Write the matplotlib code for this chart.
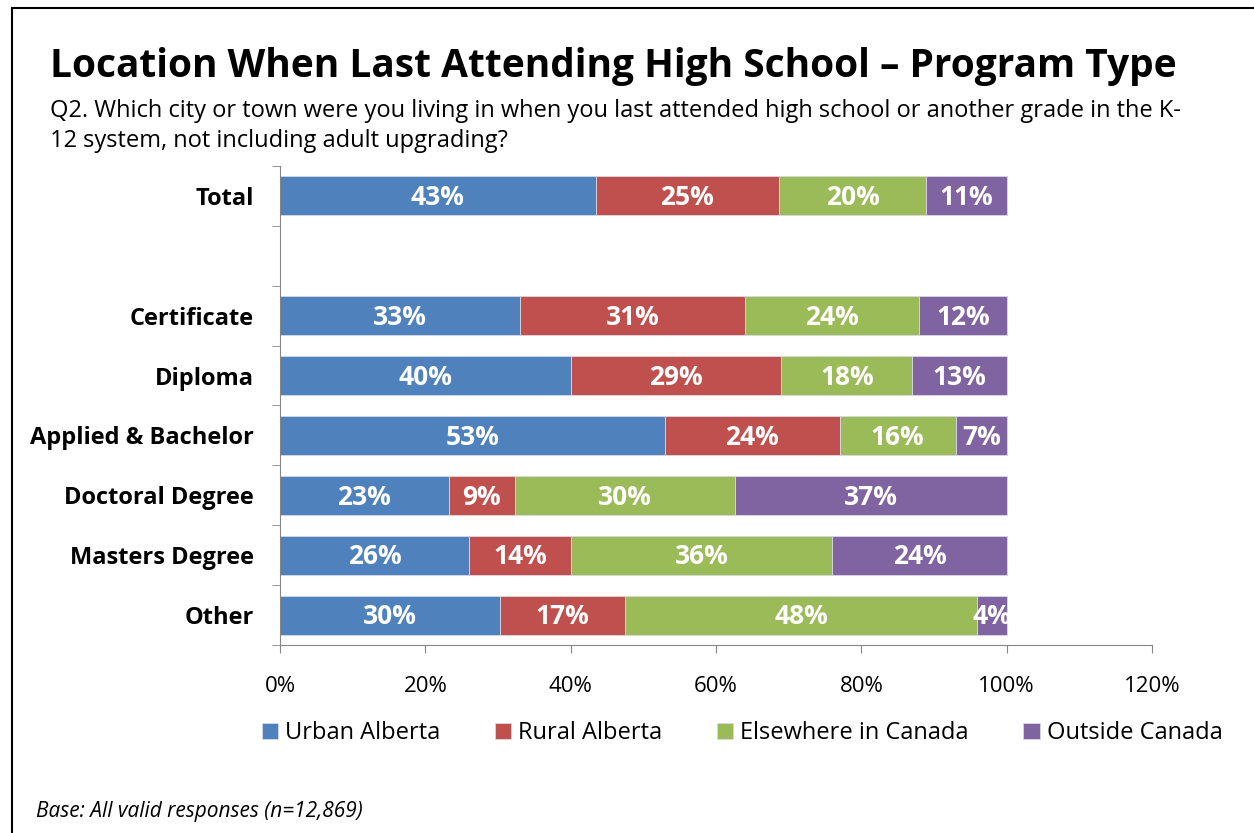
import numpy as np
import matplotlib.pyplot as plt
from matplotlib.lines import Line2D

plt.rcParams['font.family'] = ['Open Sans', 'DejaVu Sans']

# rows from top to bottom, "" is the spacer row after Total
categories = ['Total', '', 'Certificate', 'Diploma', 'Applied & Bachelor',
              'Doctoral Degree', 'Masters Degree', 'Other']
series = ['Urban Alberta', 'Rural Alberta', 'Elsewhere in Canada', 'Outside Canada']
urban = [43, 0, 33, 40, 53, 23, 26, 30]
rural = [25, 0, 31, 29, 24, 9, 14, 17]
elsewhere = [20, 0, 24, 18, 16, 30, 36, 48]
outside = [11, 0, 12, 13, 7, 37, 24, 4]
colors = ['#4F81BD', '#C0504D', '#9BBB59', '#8064A2']
xticks = [0, 20, 40, 60, 80, 100, 120]

data = np.array([urban, rural, elsewhere, outside], dtype=float)
totals = data.sum(axis=0)
totals[totals == 0] = 1
shares = data / totals * 100  # 100% stacked

fig = plt.figure(figsize=(12.54, 8.33), dpi=100)
ax = fig.add_axes([280/1254, 1 - 645/833, (1152-280)/1254, (645-166)/833])

y = np.arange(len(categories))
left = np.zeros(len(categories))
for vals, pct, col, name in zip(data, shares, colors, series):
    ax.barh(y, pct, left=left, height=0.65, color=col, label=name,
            edgecolor='#d9d9e6', linewidth=0.6)
    for yi, v, p, l in zip(y, vals, pct, left):
        if v > 0:
            ax.text(l + p / 2, yi + 0.03, f'{v:.0f}%', ha='center', va='center',
                    color='white', fontsize=19, fontweight='bold')
    left += pct

ax.set_ylim(len(categories) - 0.5, -0.5)
ax.set_xlim(0, 120)
ax.set_xticks(xticks)
ax.set_xticklabels([f'{t}%' for t in xticks], fontsize=16)
ax.set_yticks(y)
ax.set_yticklabels(categories, fontsize=17, fontweight='bold')
ax.set_yticks(np.arange(len(categories) + 1) - 0.5, minor=True)
ax.tick_params(axis='y', which='major', length=0, pad=19)
ax.tick_params(axis='y', which='minor', length=6, color='#868686')
ax.tick_params(axis='x', length=6, color='#868686', pad=16)
for s in ['top', 'right']:
    ax.spines[s].set_visible(False)
for s in ['left', 'bottom']:
    ax.spines[s].set_color('#868686')

ax.legend(loc='upper center', bbox_to_anchor=(0.5 + 26/872, -0.115), ncol=4,
          frameon=False, fontsize=17, handlelength=0.7, handleheight=0.7,
          handletextpad=0.3, columnspacing=2.3)

fig.text(50/1254, 1 - 66/833, 'Location When Last Attending High School \u2013 Program Type',
         fontsize=28, fontweight='bold', va='center')
fig.text(50/1254, 1 - 126/833,
         'Q2. Which city or town were you living in when you last attended high school or another grade in the K-\n'
         '12 system, not including adult upgrading?',
         fontsize=17, va='center', linespacing=1.35)
fig.text(36/1254, 1 - 812/833, 'Base: All valid responses (n=12,869)',
         fontsize=15, style='italic', va='center')

# frame lines along top and left edge
fig.add_artist(Line2D([12/1254, 1], [1 - 8/833, 1 - 8/833], color='black', lw=1.5))
fig.add_artist(Line2D([12/1254, 12/1254], [0, 1 - 8/833], color='black', lw=1.5))

fig.savefig('out.png', dpi=100)
